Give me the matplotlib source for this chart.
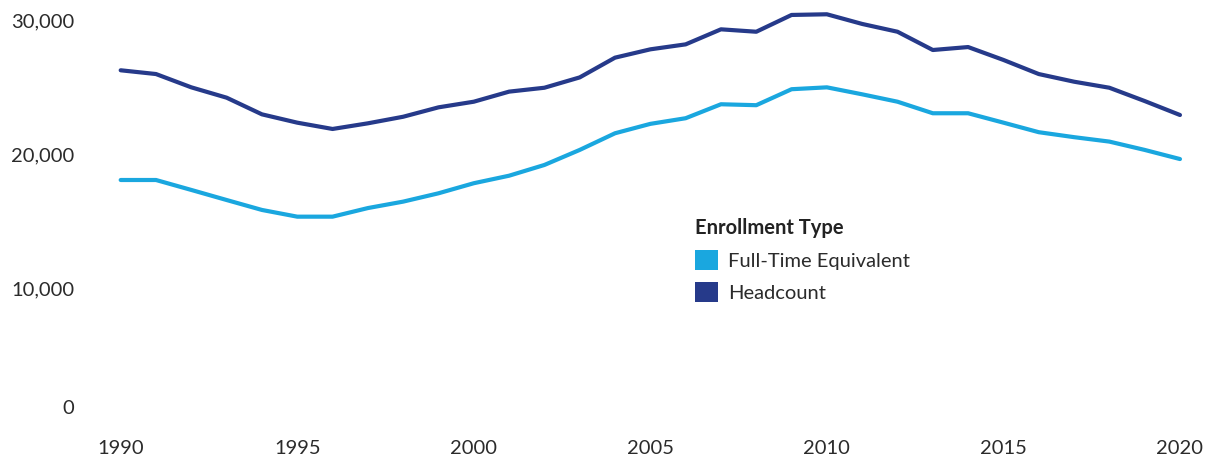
import matplotlib
matplotlib.use("Agg")
import matplotlib.pyplot as plt
from matplotlib.patches import Patch
from matplotlib.transforms import offset_copy

plt.rcParams['font.family'] = ['Lato', 'DejaVu Sans']

years = list(range(1990, 2021))
headcount = [26360, 26080, 25090, 24320, 23080, 22460, 21990, 22410, 22900, 23600,
             24020, 24770, 25060, 25830, 27300, 27920, 28290, 29410, 29230, 30480,
             30530, 29810, 29230, 27870, 28090, 27130, 26080, 25510, 25060, 24070,
             23030]
fte = [18190, 18190, 17450, 16700, 15960, 15460, 15460, 16100, 16580, 17200,
       17950, 18510, 19310, 20430, 21670, 22370, 22790, 23830, 23760, 24950,
       25090, 24570, 24020, 23160, 23160, 22460, 21750, 21380, 21050, 20430,
       19750]
series_names = ["Full-Time Equivalent", "Headcount"]
colors = ["#1AA7DF", "#263A8A"]
yticks = [0, 10000, 20000, 30000]
xticks = [1990, 1995, 2000, 2005, 2010, 2015, 2020]
legend_title = "Enrollment Type"

W, H = 1206, 458
fig = plt.figure(figsize=(W / 100, H / 100), dpi=100)
left_px, right_px, top_px, bot_px = 90, 1200, 5, 436
ax = fig.add_axes([left_px / W, 1 - bot_px / H, (right_px - left_px) / W, (bot_px - top_px) / H])

ax.plot(years, headcount, color=colors[1], lw=3, solid_joinstyle='round', solid_capstyle='round', zorder=3)
ax.plot(years, fte, color=colors[0], lw=3, solid_joinstyle='round', solid_capstyle='round', zorder=3)

ax.set_xlim(1989.131, 2020.567)
ax.set_ylim(-872, 31221)

for s in ax.spines.values():
    s.set_visible(False)
ax.set_xticks(xticks)
ax.set_xticklabels([str(x) for x in xticks])
ax.tick_params(axis='x', length=0, pad=3, labelsize=14.5, labelcolor='#2b2b2b')
ax.set_yticks([])

txt_color = '#2b2b2b'
for v in yticks:
    dy = 16 if v == 0 else 0
    tr = offset_copy(ax.get_yaxis_transform(), fig=fig, x=-(90 - 74), y=dy, units='dots')
    ax.text(0, v, f"{v:,}", transform=tr, ha='right', va='center', fontsize=14.5, color=txt_color)

handles = [Patch(facecolor=colors[0]), Patch(facecolor=colors[1])]
leg = ax.legend(handles, series_names, title=legend_title, loc='upper left',
                bbox_to_anchor=(681 / W, 1 - 204 / H), bbox_transform=fig.transFigure,
                frameon=False, fontsize=14.5, handlelength=1.15, handleheight=1.15,
                handletextpad=0.5, labelspacing=0.6, borderpad=0.2,
                alignment='left', title_fontproperties={'weight': 'bold', 'size': 14.5})
for t in leg.get_texts():
    t.set_color(txt_color)
leg.get_title().set_color('#222222')

fig.savefig("out.png", dpi=100, facecolor='white')
